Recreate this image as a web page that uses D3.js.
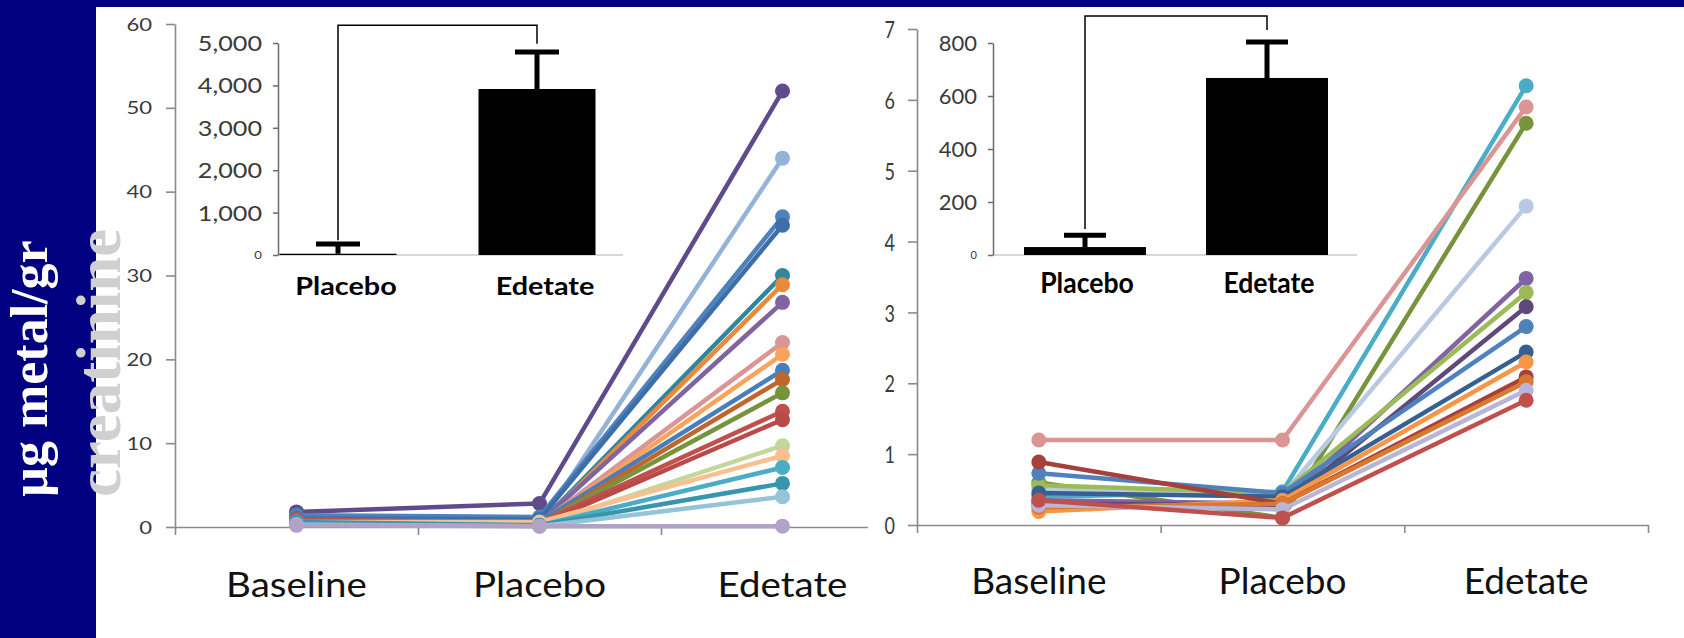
<!DOCTYPE html>
<meta charset="utf-8">

<style>
body { margin: 0; background: #fff; }
svg { display: block; }
.tick text { font-family: Lato, sans-serif; fill: #3a3a3a; }
</style>

<!-- Load d3.js -->
<script src="https://d3js.org/d3.v7.min.js"></script>

<div id="my_dataviz"></div>

<script>

// categories
var periods = ["Baseline", "Placebo", "Edetate"];
var groups = ["Placebo", "Edetate"];

// left panel: one row per patient (baseline, placebo, edetate)
var leftSeries = [
  [1.8, 2.8, 52],
  [0.6, 0.3, 44],
  [1.4, 1.2, 37],
  [1.0, 0.9, 36],
  [0.7, 0.4, 30],
  [0.5, 0.3, 28.9],
  [0.8, 0.5, 26.8],
  [0.6, 0.4, 22],
  [0.5, 0.3, 20.6],
  [0.9, 0.6, 18.7],
  [0.6, 0.3, 17.6],
  [0.7, 0.4, 16],
  [0.9, 0.5, 13.8],
  [0.5, 0.3, 12.8],
  [0.4, 0.2, 9.7],
  [0.6, 0.6, 8.5],
  [0.4, 0.2, 7.1],
  [0.6, 0.2, 5.2],
  [0.3, 0.1, 3.6],
  [0.2, 0.1, 0.1]
];
var leftColors = ["#5f4a8b", "#95b3d7", "#4f81bd", "#3c6ea8", "#31859c", "#e88a3a",
  "#8064a2", "#d99694", "#f9a45a", "#4a7ebb", "#c0662a", "#77933c", "#c0504d",
  "#b94a48", "#c3d69b", "#fabf8f", "#4bacc6", "#3795ad", "#93c4d8", "#b3a2c7"];
var leftTicks = [0, 10, 20, 30, 40, 50, 60];

// left inset bars
var leftBarMeans = [30, 3915];
var leftBarErrors = [260, 4790];
var leftBarTicks = [0, 1000, 2000, 3000, 4000, 5000];
var leftBracket = [350, 5420, 4980];

// right panel
var rightSeries = [
  [0.4, 0.47, 6.2],
  [1.2, 1.2, 5.9],
  [0.6, 0.1, 5.67],
  [0.5, 0.42, 4.5],
  [0.35, 0.3, 3.48],
  [0.56, 0.45, 3.28],
  [0.3, 0.28, 3.08],
  [0.73, 0.45, 2.8],
  [0.45, 0.4, 2.44],
  [0.19, 0.35, 2.3],
  [0.89, 0.3, 2.09],
  [0.25, 0.3, 2.02],
  [0.28, 0.22, 1.9],
  [0.35, 0.1, 1.76]
];
var rightColors = ["#4bacc6", "#d99694", "#77933c", "#b9c9e2", "#8064a2", "#9bbb59",
  "#5f497a", "#4f81bd", "#376092", "#f79646", "#a5403c", "#d9782e", "#b8b5d8", "#c0504d"];
var rightTicks = [0, 1, 2, 3, 4, 5, 6, 7];

// right inset bars
var rightBarMeans = [30, 668];
var rightBarErrors = [75, 804];
var rightBarTicks = [0, 200, 400, 600, 800];
var rightBracket = [98, 902, 849];


var width = 1684, height = 638;

var svg = d3.select("#my_dataviz")
    .append("svg")
    .attr("width", width)
    .attr("height", height);

svg.append("rect").attr("width", width).attr("height", height).attr("fill", "#fff");

// text in the source picture is squeezed / stretched sideways
function stretch(sel, sx) {
  sel.each(function() {
    var t = d3.select(this);
    t.attr("x", (+t.attr("x") || 0) / sx).attr("transform", "scale(" + sx + ",1)");
  });
}

function drawPanel(c) {
  var g = svg.append("g");

  if (c.bg) {
    g.append("rect").attr("x", c.bg[0]).attr("y", c.bg[1])
      .attr("width", width - c.bg[0]).attr("height", height - c.bg[1]).attr("fill", "#fff");
  }

  var x = d3.scalePoint().domain(periods).range([c.x0, c.x1]).padding(0.5);
  var y = d3.scaleLinear().domain([0, c.yMax]).range([c.yBottom, c.yTop]);
  var edges = d3.scaleLinear().domain([0, periods.length]).range([c.x0, c.x1]);

  // x axis, ticks between categories (excel style)
  var gx = g.append("g")
      .attr("transform", "translate(0," + c.yBottom + ")")
      .call(d3.axisBottom(edges).tickValues(d3.range(periods.length + 1)).tickFormat("").tickSize(8).tickSizeOuter(0));
  gx.selectAll("path, line").attr("stroke", "#8a8a8a").attr("stroke-width", 1.6);

  var gy = g.append("g")
      .attr("transform", "translate(" + c.x0 + ",0)")
      .call(d3.axisLeft(y).tickValues(c.ticks).tickFormat(d3.format("d"))
        .tickSize(9).tickPadding(c.tickPad).tickSizeOuter(0));
  gy.selectAll("path, line").attr("stroke", "#8a8a8a").attr("stroke-width", 1.6);
  gy.selectAll("text").style("font-size", c.tickFont + "px").attr("dy", "0.36em");
  stretch(gy.selectAll("text"), c.tickStretch);

  var cats = g.selectAll(".cat")
    .data(periods)
    .enter().append("text")
      .attr("class", "cat")
      .attr("x", function(d) { return x(d); })
      .attr("y", c.catY)
      .attr("text-anchor", "middle")
      .style("font-family", "Lato, sans-serif")
      .style("font-size", c.catFont + "px")
      .attr("fill", "#111")
      .text(function(d) { return d; });
  stretch(cats, c.catStretch);

  // patient lines
  var line = d3.line()
      .x(function(d, i) { return x(periods[i]); })
      .y(function(d) { return y(d); });

  var rows = g.selectAll(".patient")
    .data(c.series)
    .enter().append("g")
      .attr("class", "patient");

  rows.append("path")
      .attr("d", line)
      .attr("fill", "none")
      .attr("stroke", function(d, i) { return c.colors[i]; })
      .attr("stroke-width", 4.5)
      .attr("stroke-linejoin", "round");

  rows.selectAll("circle")
    .data(function(d, i) { return d.map(function(v) { return {v: v, col: c.colors[i]}; }); })
    .enter().append("circle")
      .attr("cx", function(d, i) { return x(periods[i]); })
      .attr("cy", function(d) { return y(d.v); })
      .attr("r", 7.5)
      .attr("fill", function(d) { return d.col; });

  // inset bar chart
  var b = c.inset;
  var ix = d3.scalePoint().domain(groups).range(b.centers);
  var iy = d3.scaleLinear().domain([0, b.max]).range([b.yBottom, b.yTop]);

  g.append("line")
      .attr("x1", b.axisX).attr("x2", b.baseEnd)
      .attr("y1", iy(0)).attr("y2", iy(0))
      .attr("stroke", "#d8d8d8").attr("stroke-width", 2);

  var iyAxis = g.append("g")
      .attr("transform", "translate(" + b.axisX + ",0)")
      .call(d3.axisLeft(iy).tickValues(b.ticks).tickSize(5).tickPadding(b.tickPad).tickSizeOuter(0).tickFormat(d3.format(",")));
  iyAxis.selectAll("path, line").attr("stroke", "#6a6a6a").attr("stroke-width", 1.5);
  iyAxis.selectAll("text")
      .attr("dy", "0.36em")
      .style("font-size", function(d) { return (d === 0 ? 11 : b.tickFont) + "px"; })
      .attr("fill", function(d) { return d === 0 ? "#888" : "#222"; });
  stretch(iyAxis.selectAll("text"), b.tickStretch);

  g.selectAll(".bar")
    .data(b.means)
    .enter().append("rect")
      .attr("class", "bar")
      .attr("x", function(d, i) { return ix(groups[i]) - b.barWidth / 2; })
      .attr("width", b.barWidth)
      .attr("y", function(d) { return iy(d); })
      .attr("height", function(d) { return iy(0) - iy(d); })
      .attr("fill", "#000");

  g.selectAll(".stem")
    .data(b.errors)
    .enter().append("line")
      .attr("class", "stem")
      .attr("x1", function(d, i) { return ix(groups[i]); })
      .attr("x2", function(d, i) { return ix(groups[i]); })
      .attr("y1", function(d, i) { return iy(b.means[i]); })
      .attr("y2", function(d) { return iy(d); })
      .attr("stroke", "#000").attr("stroke-width", 5);

  g.selectAll(".cap")
    .data(b.errors)
    .enter().append("line")
      .attr("class", "cap")
      .attr("x1", function(d, i) { return ix(groups[i]) - b.capWidth / 2; })
      .attr("x2", function(d, i) { return ix(groups[i]) + b.capWidth / 2; })
      .attr("y1", function(d) { return iy(d); })
      .attr("y2", function(d) { return iy(d); })
      .attr("stroke", "#000").attr("stroke-width", 5);

  // significance bracket
  g.append("path")
      .attr("d", "M" + ix(groups[0]) + "," + iy(b.bracket[0]) +
                 "V" + iy(b.bracket[1]) +
                 "H" + ix(groups[1]) +
                 "V" + iy(b.bracket[2]))
      .attr("fill", "none")
      .attr("stroke", "#000")
      .attr("stroke-width", 1.5);

  var labs = g.selectAll(".glab")
    .data(groups)
    .enter().append("text")
      .attr("class", "glab")
      .attr("x", function(d) { return ix(d) + b.labelShift; })
      .attr("y", b.labelY)
      .attr("text-anchor", "middle")
      .style("font-family", "Lato, sans-serif")
      .style("font-weight", "bold")
      .style("font-size", b.labelFont + "px")
      .attr("fill", "#000")
      .text(function(d) { return d; });
  stretch(labs, b.labelStretch);
}

drawPanel({
  series: leftSeries, colors: leftColors, ticks: leftTicks, yMax: 60,
  x0: 175, x1: 904, yBottom: 527, yTop: 24,
  tickPad: 14, tickFont: 17, tickStretch: 1.3,
  catY: 597, catFont: 35, catStretch: 1.1,
  inset: {
    means: leftBarMeans, errors: leftBarErrors, ticks: leftBarTicks, max: 5000,
    bracket: leftBracket, centers: [338, 537], axisX: 278, baseEnd: 623,
    yBottom: 255, yTop: 43, barWidth: 117, capWidth: 44,
    tickPad: 11, tickFont: 21, tickStretch: 1.2,
    labelY: 295, labelFont: 24, labelStretch: 1.2, labelShift: 8
  }
});

drawPanel({
  bg: [868, 7],
  series: rightSeries, colors: rightColors, ticks: rightTicks, yMax: 7,
  x0: 917, x1: 1648, yBottom: 525, yTop: 29,
  tickPad: 13, tickFont: 24, tickStretch: 0.75,
  catY: 594, catFont: 37, catStretch: 1,
  inset: {
    means: rightBarMeans, errors: rightBarErrors, ticks: rightBarTicks, max: 800,
    bracket: rightBracket, centers: [1085, 1267], axisX: 993, baseEnd: 1357,
    yBottom: 255, yTop: 43, barWidth: 122, capWidth: 42,
    tickPad: 11, tickFont: 22, tickStretch: 1,
    labelY: 293, labelFont: 28, labelStretch: 0.95, labelShift: 2
  }
});

// slide frame: blue band on the left and along the top
svg.append("rect").attr("x", 0).attr("y", 0).attr("width", 96).attr("height", height).attr("fill", "#000080");
svg.append("rect").attr("x", 0).attr("y", 0).attr("width", width).attr("height", 7).attr("fill", "#000080");

// y title, two lines, rotated
var title = svg.append("g").style("font-family", "'Liberation Serif', 'Times New Roman', serif").style("font-weight", "bold");
title.append("text")
    .attr("transform", "translate(47,497) rotate(-90)")
    .style("font-size", "52px")
    .attr("fill", "#fff")
    .text("µg metal/gr");
title.append("text")
    .attr("transform", "translate(120,497) rotate(-90)")
    .style("font-size", "63px")
    .attr("fill", "#d0d0d0")
    .text("creatinine");

</script>
